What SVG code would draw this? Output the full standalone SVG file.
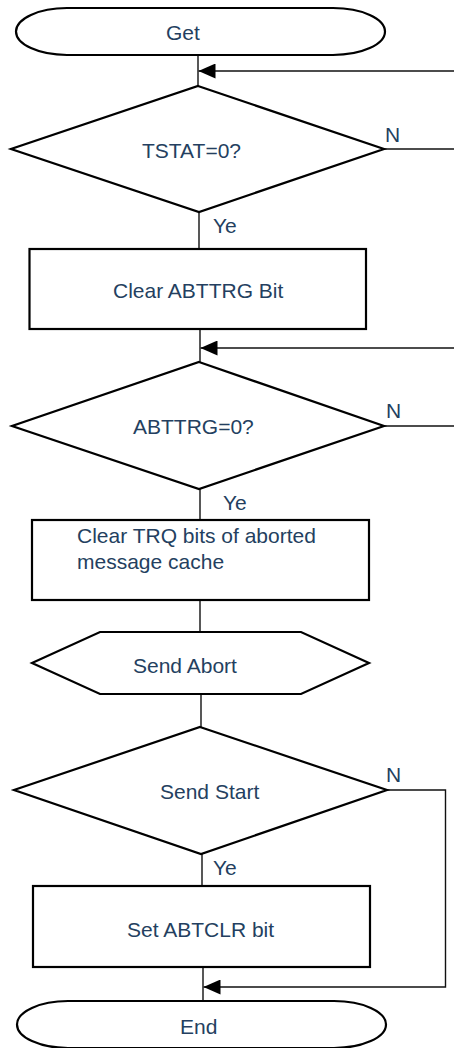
<svg xmlns="http://www.w3.org/2000/svg" width="454" height="1048" viewBox="0 0 454 1048">
<defs>
<style>
.shape{fill:#fff;stroke:#000;stroke-width:2.2;stroke-linejoin:miter}
.conn{fill:none;stroke:#111;stroke-width:1.4}
.txt{font-family:"Liberation Sans",Arial,sans-serif;font-size:21px;fill:#243F60}
</style>
<marker id="arr" viewBox="0 0 17 15" refX="17" refY="7.5" markerWidth="17" markerHeight="15" markerUnits="userSpaceOnUse" orient="auto">
<path d="M0,0 L17,7.5 L0,15 Z" fill="#000"/>
</marker>
</defs>
<rect width="454" height="1048" fill="#fff"/>
<g id="connectors">
<line class="conn" x1="198" y1="55" x2="198" y2="86"/>
<line class="conn" x1="454" y1="71" x2="198.5" y2="71" marker-end="url(#arr)"/>
<line class="conn" x1="384" y1="149" x2="454" y2="149"/>
<line class="conn" x1="199" y1="212" x2="199" y2="249"/>
<line class="conn" x1="200" y1="329" x2="200" y2="362"/>
<line class="conn" x1="454" y1="348" x2="200.5" y2="348" marker-end="url(#arr)"/>
<line class="conn" x1="384" y1="426" x2="454" y2="426"/>
<line class="conn" x1="200" y1="489" x2="200" y2="520"/>
<line class="conn" x1="200" y1="600" x2="200" y2="632"/>
<line class="conn" x1="201" y1="694" x2="201" y2="727"/>
<line class="conn" x1="202" y1="854" x2="202" y2="886"/>
<line class="conn" x1="203" y1="967" x2="203" y2="1001"/>
<polyline class="conn" points="387,790 445.5,790 445.5,987 203.5,987" marker-end="url(#arr)"/>
</g>
<g id="get">
<path class="shape" d="M67,8 H333 A52,23.5 0 0 1 333,55 H67 A51,23.5 0 0 1 67,8 Z"/>
<text class="txt" x="166" y="40">Get</text>
</g>
<g id="tstat">
<polygon class="shape" points="198,86 384,149 199,212 11,149"/>
<text class="txt" x="142" y="158">TSTAT=0?</text>
<text class="txt" x="385" y="142">N</text>
<text class="txt" x="213" y="233">Ye</text>
</g>
<g id="clear-abttrg">
<rect class="shape" x="29.5" y="249" width="336.5" height="80"/>
<text class="txt" x="113" y="298">Clear ABTTRG Bit</text>
</g>
<g id="abttrg">
<polygon class="shape" points="199,362 384,426 199,489 12,426"/>
<text class="txt" x="133" y="434">ABTTRG=0?</text>
<text class="txt" x="386" y="418">N</text>
<text class="txt" x="223" y="510">Ye</text>
</g>
<g id="clear-trq">
<rect class="shape" x="32" y="520" width="337" height="80"/>
<text class="txt" x="77" y="543">Clear TRQ bits of aborted</text>
<text class="txt" x="77" y="569">message cache</text>
</g>
<g id="send-abort">
<polygon class="shape" points="100,632 301,632 369,663 301,694 100,694 32,663"/>
<text class="txt" x="133" y="673">Send Abort</text>
</g>
<g id="send-start">
<polygon class="shape" points="200,727 387,790 201,854 14,790"/>
<text class="txt" x="160" y="799">Send Start</text>
<text class="txt" x="386" y="782">N</text>
<text class="txt" x="213" y="875">Ye</text>
</g>
<g id="set-abtclr">
<rect class="shape" x="33" y="886" width="337" height="81"/>
<text class="txt" x="127" y="937">Set ABTCLR bit</text>
</g>
<g id="end">
<path class="shape" d="M68,1001 H334 A52,23.5 0 0 1 334,1048 H68 A51,23.5 0 0 1 68,1001 Z"/>
<text class="txt" x="180" y="1034">End</text>
</g>
</svg>
